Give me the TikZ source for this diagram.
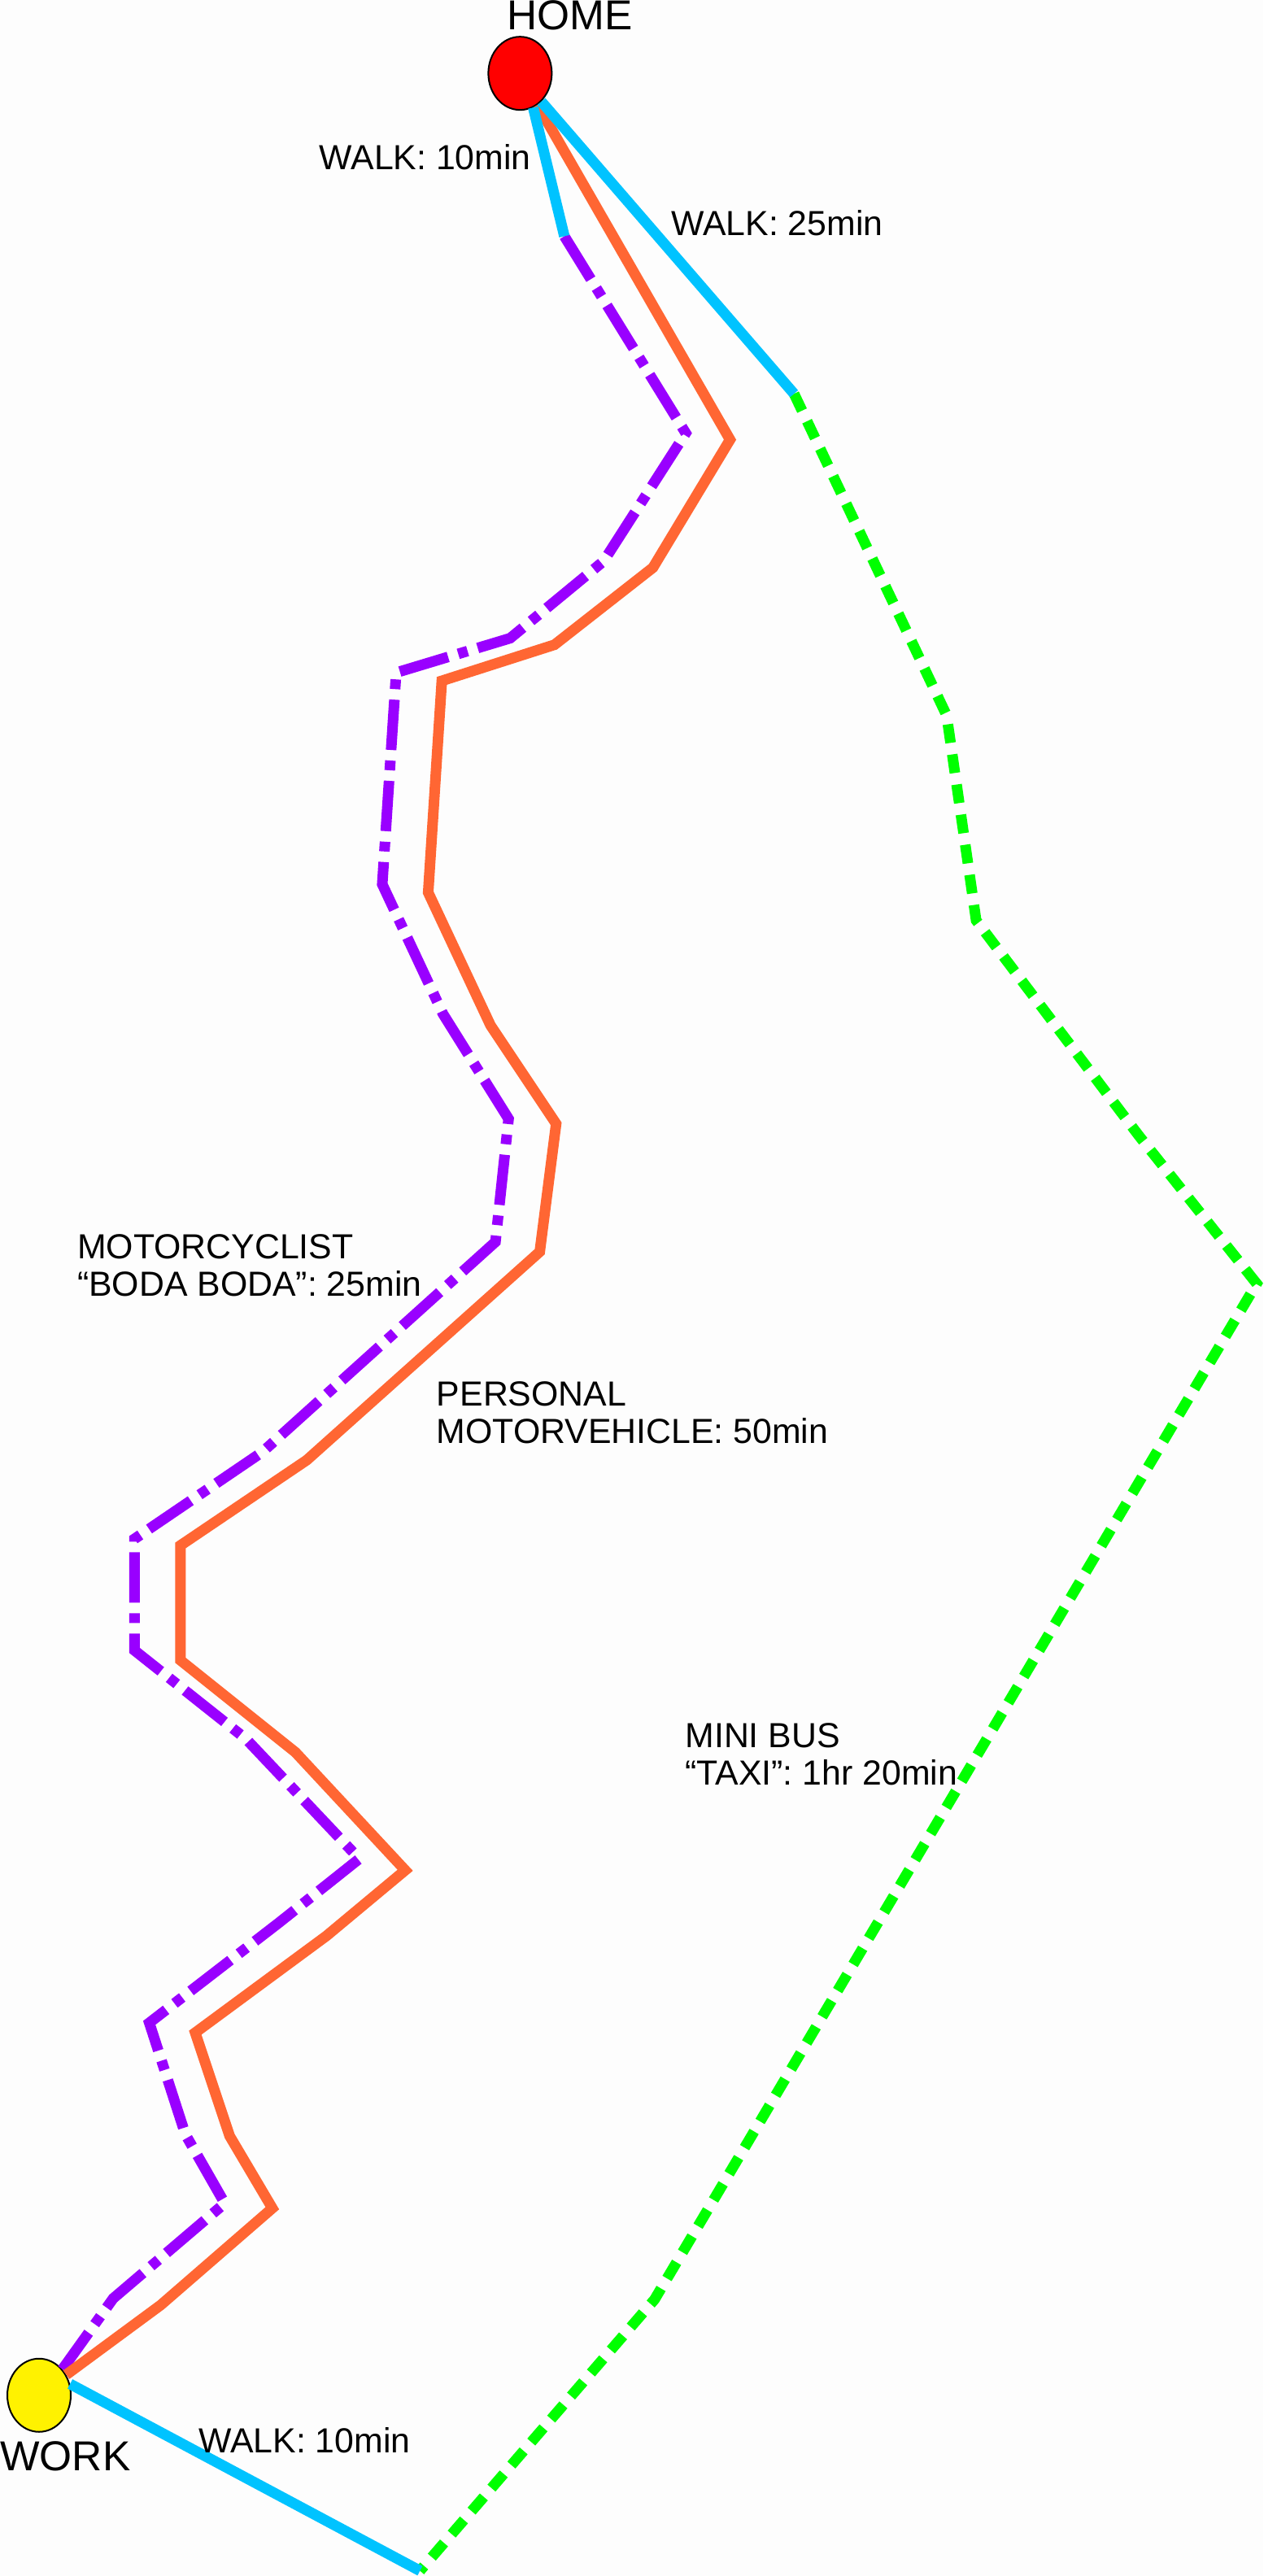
\documentclass[tikz,border=0pt]{standalone}
\usepackage{fontspec}
\setmainfont{Liberation Sans}
\usetikzlibrary{shapes.geometric}
\definecolor{pagegray}{RGB}{253,253,253}
\definecolor{walkblue}{RGB}{0,195,255}
\definecolor{carorange}{RGB}{255,102,51}
\definecolor{bodapurple}{RGB}{153,0,255}
\definecolor{taxigreen}{RGB}{0,255,0}
\tikzset{
    place/.style={ellipse, draw=black, line width=1pt, minimum width=39pt, minimum height=45pt, inner sep=0pt},
    placename/.style={inner sep=0pt, anchor=base west, font=\fontsize{25.7}{28}\selectfont},
    timelabel/.style={inner sep=0pt, anchor=base west, align=left, font=\fontsize{21.4}{23}\selectfont},
    walkline/.style={draw=walkblue, line width=6.5pt},
    carline/.style={draw=carorange, line width=6.5pt},
    bodaline/.style={draw=bodapurple, line width=6.5pt, dash pattern=on 31pt off 6.5pt on 6pt off 6.5pt},
    taxiline/.style={draw=taxigreen, line width=6.5pt, dash pattern=on 11.5pt off 7.2pt},
}
\begin{document}
\begin{tikzpicture}[x=1.0085pt, y=-1.0085pt]
    \fill[pagegray] (0,0) rectangle (770,1570.2);
    \useasboundingbox (0,0) rectangle (770,1570.2);
    \coordinate (boda top) at (344,144);
    \coordinate (taxi top) at (484,240);
    \coordinate (taxi bottom) at (256,1567);
    \node[place, fill=red] (home) at (317,44.7) {};
    \node[place, fill=yellow] (work) at (23.8,1460) {};
    \path[bodaline] (boda top) -- (418,264) -- (368,342) -- (311,389) -- (241.5,410)
        -- (233,539) -- (270,618) -- (310,682) -- (302,757) -- (160,885) -- (82,938)
        -- (82,1006) -- (150,1060) -- (219,1133) -- (170,1172) -- (91,1233)
        -- (113,1301) -- (137,1343) -- (69,1401) -- (work.48);
    \path[carline] (home.-61) -- (445,268) -- (398,346) -- (338,393) -- (269.3,415)
        -- (261,544) -- (299,625) -- (339,685) -- (329,763) -- (187,890) -- (110,942)
        -- (110,1012) -- (180,1068) -- (247,1140) -- (199,1180) -- (119,1239)
        -- (140,1302) -- (166,1346) -- (98,1405) -- (work.37);
    \path[taxiline] (taxi top) -- (577,436) -- (595,561) -- (694,692) -- (766,782.4)
        -- (399,1401.6) -- (taxi bottom);
    \path[walkline] (home.-69) -- (boda top);
    \path[walkline] (home.-53) -- (taxi top);
    \path[walkline] (work.20) -- (taxi bottom);
    \node[placename] (home name) at (309,18) {HOME};
    \node[placename] (work name) at (0,1506) {WORK};
    \node[timelabel] (walk ten) at (194.5,103.6) {WALK: 10min};
    \node[timelabel] (walk long) at (409,143.4) {WALK: 25min};
    \node[timelabel] (walk end) at (121,1495) {WALK: 10min};
    \node[timelabel] (boda) at (47,790) {MOTORCYCLIST\\``BODA BODA'': 25min};
    \node[timelabel] (car) at (266,880) {PERSONAL\\MOTORVEHICLE: 50min};
    \node[timelabel] (taxi) at (417.5,1088) {MINI BUS\\``TAXI'': 1hr 20min};
\end{tikzpicture}
\end{document}
